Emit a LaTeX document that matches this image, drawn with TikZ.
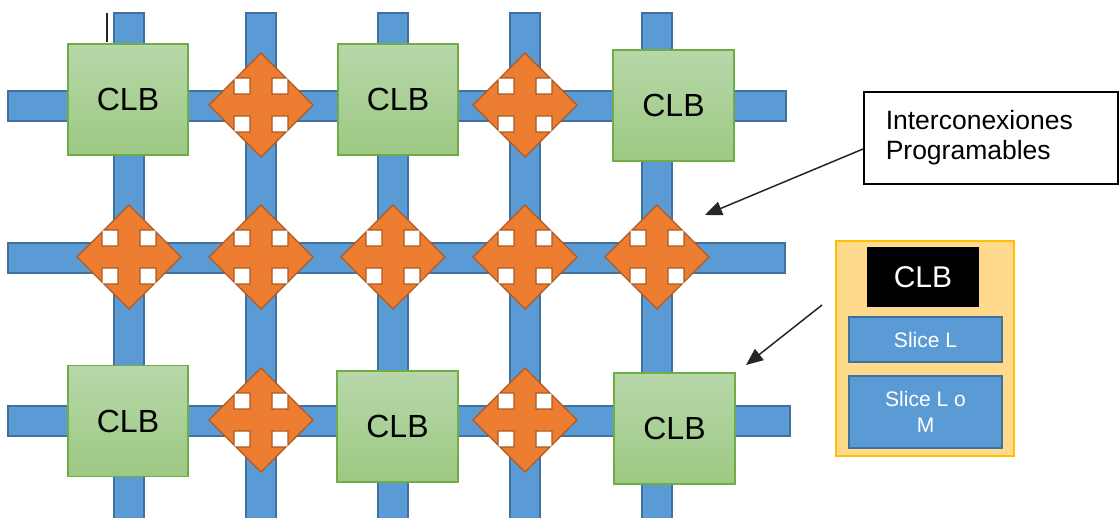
\documentclass[tikz,border=0pt]{standalone}
\usepackage{fontspec}
\setmainfont{Liberation Sans}
\usetikzlibrary{arrows.meta}
\definecolor{barblue}{HTML}{5B9BD5}
\definecolor{barblueD}{HTML}{41719C}
\definecolor{clbtop}{HTML}{B7D7A9}
\definecolor{clbbot}{HTML}{9DC983}
\definecolor{clbedge}{HTML}{70AD47}
\definecolor{xorange}{HTML}{ED7D31}
\definecolor{xorangeD}{HTML}{AE5A21}
\definecolor{panelfill}{HTML}{FFD98C}
\definecolor{paneledge}{HTML}{FFC000}
\tikzset{
  bar/.style={fill=barblue, draw=barblueD, line width=1.5pt},
  clb/.style={rectangle, inner sep=0pt, minimum width=120pt, minimum height=111pt,
    top color=clbtop, bottom color=clbbot, draw=clbedge, line width=1.5pt,
    font=\fontsize{32}{38}\selectfont, text=black},
  crossstyle/.style={fill=xorange, draw=xorangeD, line width=1.3pt, line join=miter},
  xcross/.pic={
    \fill[white] (10,10) rectangle (28,28) (-10,10) rectangle (-28,28)
                 (10,-10) rectangle (28,-28) (-10,-10) rectangle (-28,-28);
    \draw[barblueD, line width=1.2pt] (10.5,11) -- (10.5,28) (11,10.5) -- (28,10.5)
                 (-10.5,11) -- (-10.5,28) (-11,10.5) -- (-28,10.5)
                 (10.5,-11) -- (10.5,-28) (11,-10.5) -- (28,-10.5)
                 (-10.5,-11) -- (-10.5,-28) (-11,-10.5) -- (-28,-10.5);
    \path[crossstyle] (0,52) -- (25,27) -- (11,27) -- (11,11) -- (27,11) -- (27,25) -- (52,0)
     -- (27,-25) -- (27,-11) -- (11,-11) -- (11,-27) -- (25,-27) -- (0,-52)
     -- (-25,-27) -- (-11,-27) -- (-11,-11) -- (-27,-11) -- (-27,-25) -- (-52,0)
     -- (-27,25) -- (-27,11) -- (-11,11) -- (-11,27) -- (-25,27) -- cycle;},
  slicebox/.style={rectangle, inner sep=0pt, fill=barblue, draw=barblueD, line width=1.5pt,
    text=white, font=\fontsize{21}{26}\selectfont, align=center, minimum width=153pt},
  pointer/.style={draw=black!85, line width=1.5pt, -{Triangle[length=17pt,width=14pt]}}
}
\begin{document}
\begin{tikzpicture}[x=1pt,y=-1pt]
\useasboundingbox (0,0) rectangle (1119,517);
\fill[white] (0,0) rectangle (1119,517);
% vertical bars
\foreach \cx in {129,261,393,525,657}{
  \draw[bar] (\cx-15,13) rectangle (\cx+15,522);
}
% horizontal bars
\draw[bar] (8,91) rectangle (786,121);
\draw[bar] (8,243) rectangle (785,273);
\draw[bar] (8,406) rectangle (790,436);
% text cursor mark
\draw[black!85, line width=1.2pt] (107,13) -- (107,42);
% CLBs
\node[clb] (clb1) at (128,99.5) {CLB};
\node[clb] (clb2) at (398,99.5) {CLB};
\node[clb, minimum width=121pt] (clb3) at (673.5,105.5) {CLB};
\node[clb] (clb4) at (128,421) {CLB};
\node[clb, minimum width=121pt] (clb5) at (397.5,426.5) {CLB};
\node[clb, minimum width=121pt] (clb6) at (674.5,428.5) {CLB};
% programmable interconnects
\foreach \p in {(261,105),(525,105),(129,257),(261,257),(393,257),(525,257),(657,257),(261,420),(525,420)}{
  \pic at \p {xcross};
}
% label box
\node[draw=black, line width=1.5pt, rectangle, anchor=north west, inner xsep=22pt, inner ysep=0pt,
  text width=210pt, minimum height=92pt, align=left, font=\fontsize{26.5}{30}\selectfont]
  (inter) at (863,91) {Interconexiones\\Programables};
\coordinate (tip1) at (705,215);
\draw[pointer] (inter.west |- 0,149) -- (tip1);
% CLB detail panel
\node[rectangle, fill=panelfill, draw=paneledge, line width=1.5pt, inner sep=0pt,
  minimum width=178pt, minimum height=215pt] (panel) at (925,348.5) {};
\node[rectangle, fill=black, inner sep=0pt, minimum width=112pt, minimum height=60pt,
  text=white, font=\fontsize{30}{36}\selectfont] (pclb) at (923,277) {CLB};
\node[slicebox, minimum height=45pt] (s1) at (925.5,339.5) {Slice L};
\node[slicebox, minimum height=72pt] (s2) at (925.5,412) {Slice L o\\M};
\coordinate (from2) at (822,305);
\coordinate (tip2) at (746,365);
\draw[pointer] (from2) -- (tip2);
\end{tikzpicture}
\end{document}
